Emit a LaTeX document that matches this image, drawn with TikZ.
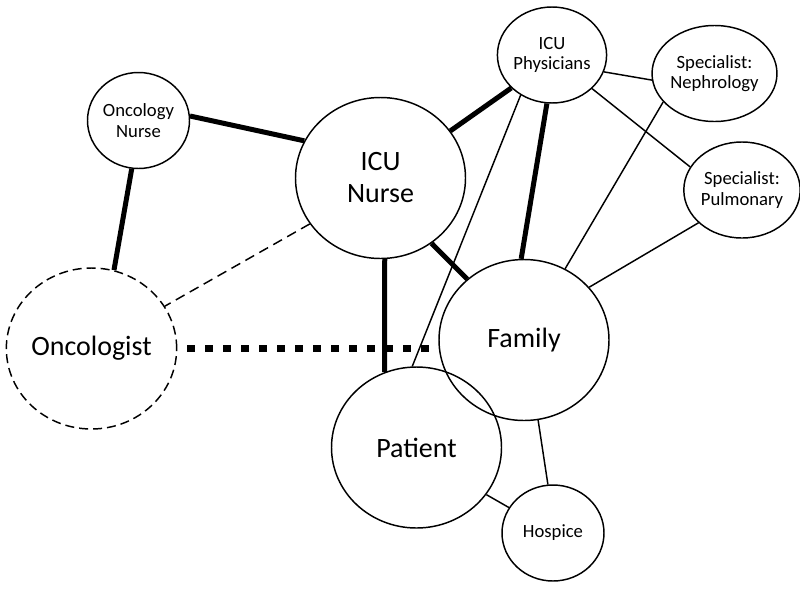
\documentclass[tikz,border=0pt]{standalone}
\usepackage{fontspec}
\setmainfont{Carlito}
\usetikzlibrary{shapes.geometric}

\begin{document}
\begin{tikzpicture}[x=0.75pt, y=-0.75pt,
    bigrole/.style={ellipse, draw, line width=1.1pt, inner sep=0pt,
        minimum width=127.5pt, minimum height=120.75pt, align=center,
        font=\fontsize{21}{24}\selectfont},
    smallrole/.style={ellipse, draw, line width=1.1pt, inner sep=0pt,
        minimum width=76.5pt, minimum height=72pt, align=center,
        font=\fontsize{14}{15.5}\selectfont},
    thinlink/.style={line width=1.1pt},
    thicklink/.style={line width=3.75pt},
]
    \useasboundingbox (0, 0) rectangle (800, 590);

    % roles
    \node[smallrole] (oncnurse) at (138.5, 120.5) {Oncology\\Nurse};
    \node[bigrole] (icunurse) at (380.5, 178) {ICU\\Nurse};
    \node[smallrole] (icuphys) at (552, 55) {ICU\\Physicians};
    \node[smallrole] (nephro) at (714.5, 73.5) {Specialist:\\Nephrology};
    \node[smallrole] (pulmo) at (742, 190) {Specialist:\\Pulmonary};
    \node[bigrole, dash pattern=on 6.75pt off 3.75pt] (oncologist) at (91.5, 348.5) {Oncologist};
    \node[bigrole] (family) at (524, 340) {Family};
    \node[bigrole] (patient) at (416.5, 447.5) {Patient};
    \node[smallrole] (hospice) at (553, 533) {Hospice};

    % strong ties
    \draw[thicklink] (oncnurse.5) -- (icunurse.154.5);
    \draw[thicklink] (oncnurse.262) -- (oncologist.74);
    \draw[thicklink] (icunurse.34) -- (icuphys.219);
    \draw[thicklink] (icunurse.308.7) -- (family.133);
    \draw[thicklink] (icunurse.273) -- (patient.113.5);
    \draw[thicklink] (icuphys.264.5) -- (family.92.8);

    % weak ties
    \draw[thinlink, dash pattern=on 7.5pt off 4.5pt] (icunurse.213.3) -- (oncologist.30.7);
    \draw[line width=5.5pt, dash pattern=on 6pt off 7.5pt, shorten <=7.5pt, shorten >=6.75pt]
        (oncologist.east) -- (oncologist.east -| family.west);
    \draw[thinlink] (icuphys.342.6) -- (nephro.186);
    \draw[thinlink] (icuphys.320.5) -- (pulmo.156.7);
    \draw[thinlink] (icuphys.232.5) -- (patient.93);
    \draw[thinlink] (nephro.209.5) -- (family.60.7);
    \draw[thinlink] (pulmo.217.5) -- (family.39.4);
    \draw[thinlink] (family.280) -- (hospice.96.8);
    \draw[thinlink] (patient.326) -- (hospice.150);
\end{tikzpicture}
\end{document}
